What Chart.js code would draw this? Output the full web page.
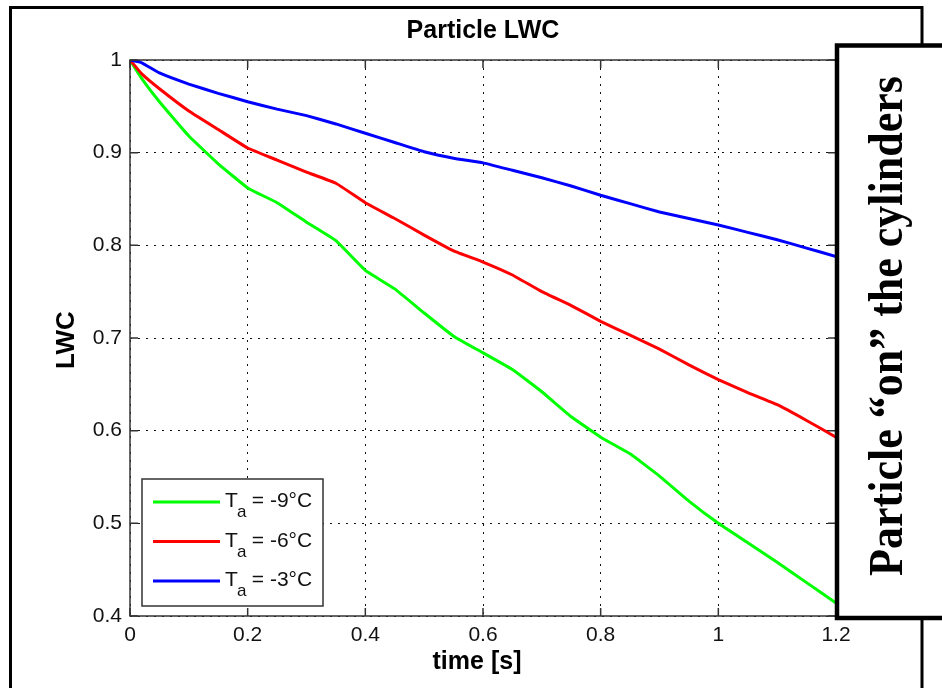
<!DOCTYPE html>
<html>
<head>
<meta charset="utf-8">
<title>Particle LWC</title>
<script src="https://cdn.jsdelivr.net/npm/chart.js@4.4.1/dist/chart.umd.min.js"></script>
<style>
  html, body { margin: 0; padding: 0; background: #fff; }
  canvas { display: block; }
</style>
</head>
<body>
<canvas id="lwc" width="942" height="688"></canvas>
<script>
// values
const times = [0, 0.02, 0.05, 0.1, 0.15, 0.2, 0.25, 0.3, 0.35, 0.4, 0.45, 0.5, 0.55, 0.6,
  0.65, 0.7, 0.75, 0.8, 0.85, 0.9, 0.95, 1.0, 1.05, 1.1, 1.15, 1.2]
const lwcMinus9 = [1.0, 0.980, 0.955, 0.918, 0.888, 0.862, 0.846, 0.825, 0.805, 0.773, 0.753,
  0.727, 0.702, 0.684, 0.666, 0.642, 0.615, 0.593, 0.575, 0.551, 0.524, 0.500, 0.479, 0.458, 0.436, 0.414]
const lwcMinus6 = [1.0, 0.985, 0.969, 0.945, 0.925, 0.905, 0.892, 0.879, 0.867, 0.846, 0.829,
  0.811, 0.794, 0.782, 0.768, 0.750, 0.735, 0.718, 0.703, 0.688, 0.671, 0.655, 0.641, 0.628, 0.611, 0.593]
const lwcMinus3 = [1.0, 0.997, 0.986, 0.974, 0.964, 0.955, 0.947, 0.940, 0.931, 0.921, 0.911,
  0.901, 0.894, 0.889, 0.881, 0.873, 0.864, 0.854, 0.845, 0.836, 0.829, 0.822, 0.814, 0.806, 0.797, 0.788]
const seriesNames = ["-9°C", "-6°C", "-3°C"]
const seriesColors = ["#00ff00", "#ff0000", "#0000ff"]
const xTicks = [0, 0.2, 0.4, 0.6, 0.8, 1, 1.2]
const yTicks = [0.4, 0.5, 0.6, 0.7, 0.8, 0.9, 1]

const SANS = "'Liberation Sans', Arial, sans-serif"
const SERIF = "'Liberation Serif', 'Times New Roman', serif"
const AXIS = "#333"

const points = (ys) => times.map((t, i) => ({ x: t, y: ys[i] }))

// MATLAB-ish decorations: box, inward ticks, legend, titles, outer frame, note box
const matlabFrame = {
  id: "matlabFrame",
  beforeDraw(chart) {
    const ctx = chart.ctx
    ctx.save()
    ctx.fillStyle = "#fff"
    ctx.fillRect(0, 0, chart.width, chart.height)
    ctx.restore()
  },
  afterDraw(chart) {
    const ctx = chart.ctx
    const a = chart.chartArea
    const xs = chart.scales.x
    const ys = chart.scales.y
    ctx.save()

    // axes box + inward ticks
    ctx.strokeStyle = AXIS
    ctx.lineWidth = 1.5
    ctx.strokeRect(a.left, a.top, a.right - a.left, a.bottom - a.top)
    ctx.beginPath()
    xTicks.forEach(v => {
      const px = xs.getPixelForValue(v)
      ctx.moveTo(px, a.bottom); ctx.lineTo(px, a.bottom - 8)
      ctx.moveTo(px, a.top); ctx.lineTo(px, a.top + 8)
    })
    yTicks.forEach(v => {
      const py = ys.getPixelForValue(v)
      ctx.moveTo(a.left, py); ctx.lineTo(a.left + 8, py)
      ctx.moveTo(a.right, py); ctx.lineTo(a.right - 8, py)
    })
    ctx.stroke()

    // legend
    const lg = { left: 142, top: 479, right: 323, bottom: 606 }
    ctx.fillStyle = "#fff"
    ctx.fillRect(lg.left, lg.top, lg.right - lg.left, lg.bottom - lg.top)
    ctx.strokeStyle = AXIS
    ctx.lineWidth = 1.5
    ctx.strokeRect(lg.left, lg.top, lg.right - lg.left, lg.bottom - lg.top)
    seriesNames.forEach((name, i) => {
      const y = 502 + i * 39.5
      ctx.strokeStyle = seriesColors[i]
      ctx.lineWidth = 3
      ctx.beginPath()
      ctx.moveTo(153, y); ctx.lineTo(220, y)
      ctx.stroke()
      ctx.fillStyle = "#111"
      ctx.textBaseline = "alphabetic"
      ctx.textAlign = "left"
      ctx.font = "21px " + SANS
      ctx.fillText("T", 225, y + 5)
      ctx.font = "17px " + SANS
      ctx.fillText("a", 237, y + 15)
      ctx.font = "21px " + SANS
      ctx.fillText(" = " + name, 246, y + 5)
    })

    // titles
    ctx.fillStyle = "#000"
    ctx.textAlign = "center"
    ctx.textBaseline = "middle"
    ctx.font = "bold 25px " + SANS
    ctx.fillText("Particle LWC", (a.left + a.right) / 2, 31)
    ctx.fillText("time [s]", 477, 662)
    ctx.save()
    ctx.translate(67, (a.top + a.bottom) / 2 + 2)
    ctx.rotate(-Math.PI / 2)
    ctx.font = "bold 26px " + SANS
    ctx.fillText("LWC", 0, 0)
    ctx.restore()

    // outer figure frame
    ctx.strokeStyle = "#000"
    ctx.lineWidth = 3
    ctx.beginPath()
    ctx.moveTo(10.5, chart.height + 5)
    ctx.lineTo(10.5, 7.5)
    ctx.lineTo(922, 7.5)
    ctx.lineTo(922, chart.height + 5)
    ctx.stroke()

    // note box on the right
    ctx.fillStyle = "#fff"
    ctx.fillRect(837, 45.5, 120, 572.5)
    ctx.strokeStyle = "#000"
    ctx.lineWidth = 4.5
    ctx.strokeRect(837, 45.5, 120, 572.5)
    ctx.save()
    ctx.translate(889, 326)
    ctx.rotate(-Math.PI / 2)
    ctx.scale(1, 1.12)
    ctx.font = "bold 44px " + SERIF
    ctx.fillStyle = "#000"
    ctx.textAlign = "center"
    ctx.textBaseline = "middle"
    ctx.fillText("Particle \u201Con\u201D the cylinders", 0, 0)
    ctx.restore()

    ctx.restore()
  }
}

const dotted = {
  grid: { color: "#111", lineWidth: 1, drawTicks: false },
  border: { display: false, dash: [2, 6] }
}

new Chart(document.getElementById("lwc"), {
  type: "line",
  data: {
    datasets: [
      { label: "Ta = -3°C", data: points(lwcMinus3), borderColor: seriesColors[2] },
      { label: "Ta = -6°C", data: points(lwcMinus6), borderColor: seriesColors[1] },
      { label: "Ta = -9°C", data: points(lwcMinus9), borderColor: seriesColors[0] }
    ].map(d => Object.assign(d, { borderWidth: 3, pointRadius: 0, tension: 0.1, fill: false }))
  },
  options: {
    responsive: false,
    animation: false,
    events: [],
    layout: { padding: { left: 0, right: 106, top: 60, bottom: 0 } },
    plugins: { legend: { display: false }, title: { display: false }, tooltip: { enabled: false } },
    scales: {
      x: {
        type: "linear",
        min: 0,
        max: 1.2,
        afterBuildTicks: s => { s.ticks = xTicks.map(v => ({ value: v })) },
        afterFit: s => { s.height = 72 },
        ticks: { color: "#111", padding: 7, font: { family: SANS, size: 21 }, callback: v => String(+v.toFixed(1)) },
        ...dotted
      },
      y: {
        type: "linear",
        min: 0.4,
        max: 1,
        afterBuildTicks: s => { s.ticks = yTicks.map(v => ({ value: v })) },
        afterFit: s => { s.width = 130 },
        ticks: { color: "#111", padding: 8, font: { family: SANS, size: 21 }, callback: v => String(+v.toFixed(1)) },
        ...dotted
      }
    }
  },
  plugins: [matlabFrame]
})
</script>
</body>
</html>
